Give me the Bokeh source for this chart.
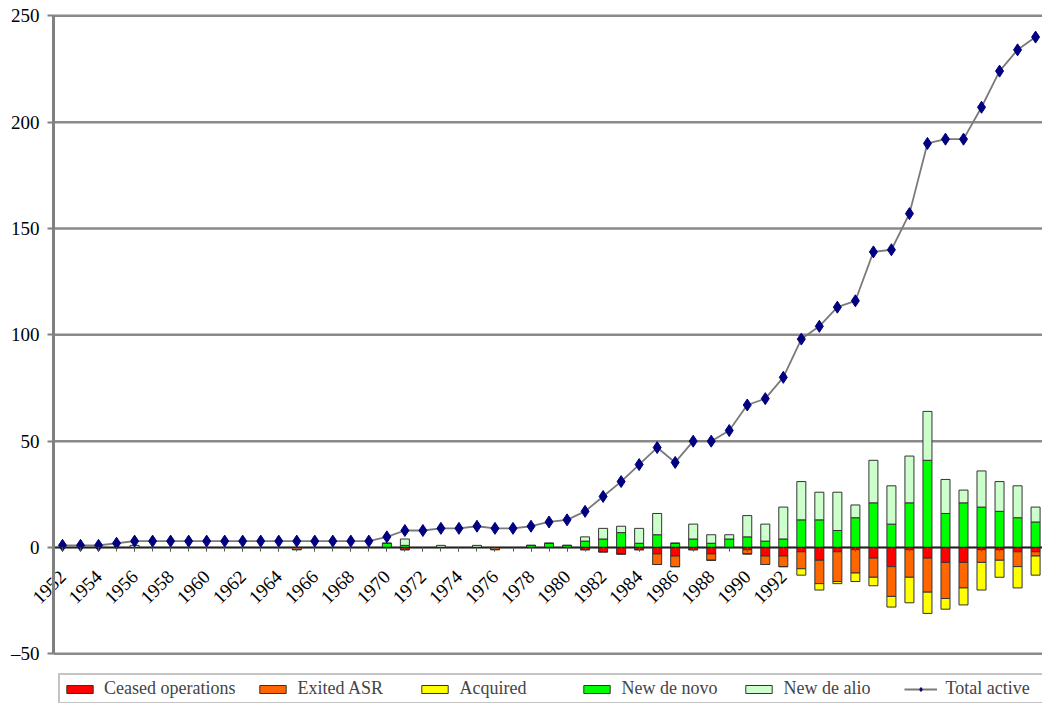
import math
from bokeh.plotting import figure
from bokeh.models import (ColumnDataSource, FixedTicker, Legend, LegendItem,
                          Range1d, LinearAxis)
from bokeh.embed import file_html
from bokeh.resources import INLINE

years = list(range(1952, 2007))
total_active = [1, 1, 1, 2, 3, 3, 3, 3, 3, 3, 3, 3, 3, 3, 3, 3, 3, 3,
                5, 8, 8, 9, 9, 10, 9, 9, 10, 12, 13, 17, 24, 31, 39, 47, 40,
                50, 50, 55, 67, 70, 80, 98, 104, 113, 116, 139, 140, 157,
                190, 192, 192, 207, 224, 234, 240]
new_de_novo = [0, 0, 0, 0, 0, 0, 0, 0, 0, 0, 0, 0, 0, 0, 0, 0, 0, 0,
               2, 1, 0, 0, 0, 0, 0, 0, 1, 2, 1, 3, 4, 7, 2, 6, 2,
               4, 2, 4, 5, 3, 4, 13, 13, 8, 14, 21, 11, 21,
               41, 16, 21, 19, 17, 14, 12]
new_de_alio = [0, 0, 0, 0, 1, 0, 0, 0, 0, 0, 0, 0, 0, 0, 0, 0, 0, 0,
               0, 3, 0, 1, 0, 1, 0, 0, 0, 0, 0, 2, 5, 3, 7, 10, 0,
               7, 4, 2, 10, 8, 15, 18, 13, 18, 6, 20, 18, 22,
               23, 16, 6, 17, 14, 15, 7]
ceased = [0, 0, 0, 0, 0, 0, 0, 0, 0, 0, 0, 0, 0, 0, 0, 0, 0, 0,
          0, 1, 0, 0, 0, 0, 0, 0, 0, 0, 0, 1, 2, 3, 1, 3, 4,
          1, 3, 0, 1, 4, 4, 2, 6, 2, 1, 5, 9, 1,
          5, 7, 7, 1, 1, 2, 2]
exited = [0, 0, 0, 0, 0, 0, 0, 0, 0, 0, 0, 0, 0, 1, 0, 0, 0, 0,
          0, 0, 0, 0, 0, 0, 1, 0, 0, 0, 0, 0, 0, 0, 0, 5, 5,
          0, 3, 0, 2, 4, 5, 8, 11, 14, 11, 9, 14, 13,
          16, 17, 12, 6, 5, 7, 2]
acquired = [0, 0, 0, 0, 0, 0, 0, 0, 0, 0, 0, 0, 0, 0, 0, 0, 0, 0,
            0, 0, 0, 0, 0, 0, 0, 0, 0, 0, 0, 0, 0, 0, 0, 0, 0,
            0, 0, 0, 0, 0, 0, 3, 3, 1, 4, 4, 5, 12,
            10, 5, 8, 13, 8, 10, 9]
labelled_years = list(range(1952, 1993, 2))
y_ticks = [-50, 0, 50, 100, 150, 200, 250]

src = ColumnDataSource(dict(
    year=years, total=total_active, novo=new_de_novo, alio=new_de_alio,
    ceased=[-v for v in ceased], exited=[-v for v in exited],
    acquired=[-v for v in acquired],
))

# ---- layout (pixels on the page; Bokeh's page has no body margin) ----
W, H = 1042, 703               # frame fills the whole figure
PX_X0, PX_PER_YEAR = 62.0, 18.02    # page x of first year, px per year
PX_Y0, PX_PER_UNIT = 547.0, 2.1267  # page y of value 0, px per unit
x_start = years[0] - PX_X0 / PX_PER_YEAR
x_end = years[0] + (W - PX_X0) / PX_PER_YEAR
y_end = PX_Y0 / PX_PER_UNIT
y_start = -(H - PX_Y0) / PX_PER_UNIT
axis_x = years[0] - 0.5

SERIF = "Liberation Serif"
p = figure(frame_width=W, frame_height=H, output_backend="svg",
           toolbar_location=None, x_axis_location=None, y_axis_location=None,
           x_range=Range1d(x_start, x_end), y_range=Range1d(y_start, y_end),
           min_border=0)
p.outline_line_color = None
p.background_fill_color = "white"
p.xgrid.grid_line_color = None
p.ygrid.grid_line_color = None

# horizontal grid lines, starting at the value axis
p.segment(x0=[axis_x] * len(y_ticks), y0=y_ticks,
          x1=[x_end + 1] * len(y_ticks), y1=y_ticks,
          line_color="#8a8a8a", line_width=2.5)

bar_line = "#333333"
pos = p.vbar_stack(["novo", "alio"], x="year", width=0.5, source=src,
                   fill_color=["#00ff00", "#ccffcc"], line_color=bar_line,
                   line_width=1)
neg = p.vbar_stack(["ceased", "exited", "acquired"], x="year", width=0.5,
                   source=src, fill_color=["#ff0000", "#ff6600", "#ffff00"],
                   line_color=bar_line, line_width=1)

# category axis on the zero line
xa = LinearAxis(fixed_location=0, bounds=(axis_x, x_end + 1))
xa.ticker = FixedTicker(ticks=labelled_years, minor_ticks=years)
xa.axis_line_color = "#222222"
xa.axis_line_width = 1.6
xa.major_tick_line_color = "#555555"
xa.minor_tick_line_color = "#555555"
xa.major_tick_out = 4
xa.major_tick_in = 0
xa.minor_tick_out = 4
xa.minor_tick_in = 0
xa.major_label_orientation = math.pi / 4
xa.major_label_standoff = 22
xa.major_label_text_font = SERIF
xa.major_label_text_font_size = "19px"
xa.major_label_text_color = "black"
p.add_layout(xa, "below")

ln = p.line("year", "total", source=src, line_color="#7a7a7a", line_width=1.8)
sc = p.scatter("year", "total", source=src, marker="diamond", size=12,
               fill_color="#000080", line_color="#000080")

# value axis
ya = LinearAxis(fixed_location=axis_x, bounds=(y_ticks[0], y_ticks[-1]))
ya.ticker = FixedTicker(ticks=y_ticks)
ya.major_label_overrides = {-50: "\u201350"}
ya.axis_line_color = "#808080"
ya.axis_line_width = 3
ya.major_tick_line_color = "#808080"
ya.major_tick_line_width = 2
ya.major_tick_out = 6
ya.major_tick_in = 0
ya.minor_tick_line_color = None
ya.major_label_standoff = 8
ya.major_label_text_font = SERIF
ya.major_label_text_font_size = "19px"
ya.major_label_text_color = "black"
p.add_layout(ya, "left")

legend = Legend(items=[
    LegendItem(label="Ceased operations", renderers=[neg[0]]),
    LegendItem(label="Exited ASR", renderers=[neg[1]]),
    LegendItem(label="Acquired", renderers=[neg[2]]),
    LegendItem(label="New de novo", renderers=[pos[0]]),
    LegendItem(label="New de alio", renderers=[pos[1]]),
    LegendItem(label="Total active", renderers=[ln, sc]),
], orientation="horizontal", location=(58, -1), margin=0, padding=3,
    spacing=21, glyph_width=33, glyph_height=10, label_standoff=8,
    label_width=100, label_height=20,
    label_text_font=SERIF, label_text_font_size="18px",
    border_line_color="#8a8a8a", border_line_width=2,
    background_fill_alpha=1)
p.add_layout(legend, "center")

open("out.html", "w").write(file_html(p, INLINE))
